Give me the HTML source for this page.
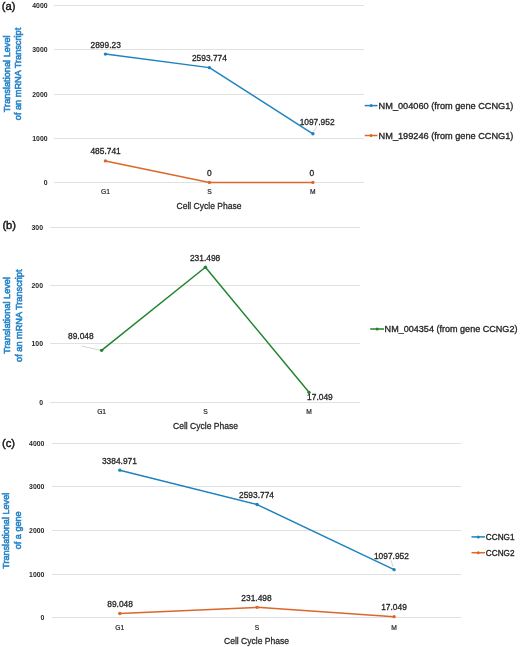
<!DOCTYPE html>
<html><head><meta charset="utf-8"><style>
html,body{margin:0;padding:0;background:#fff;}
svg{display:block;will-change:transform;}
text{font-family:"Liberation Sans", sans-serif;}
</style></head><body>
<svg width="520" height="647" viewBox="0 0 520 647">
<rect width="520" height="647" fill="#fff"/>
<text x="1.80" y="9.60" font-size="11.2" text-anchor="start" fill="#111" font-weight="normal" stroke="#111" stroke-width="0.4" >(a)</text>
<line x1="54.00" y1="182.50" x2="364.00" y2="182.50" stroke="#e1e1e1" stroke-width="1"/>
<text x="47.60" y="184.70" font-size="6.9" text-anchor="end" fill="#262626" font-weight="bold" >0</text>
<line x1="54.00" y1="138.50" x2="364.00" y2="138.50" stroke="#e1e1e1" stroke-width="1"/>
<text x="47.60" y="140.70" font-size="6.9" text-anchor="end" fill="#262626" font-weight="bold" >1000</text>
<line x1="54.00" y1="94.50" x2="364.00" y2="94.50" stroke="#e1e1e1" stroke-width="1"/>
<text x="47.60" y="96.70" font-size="6.9" text-anchor="end" fill="#262626" font-weight="bold" >2000</text>
<line x1="54.00" y1="49.50" x2="364.00" y2="49.50" stroke="#e1e1e1" stroke-width="1"/>
<text x="47.60" y="51.70" font-size="6.9" text-anchor="end" fill="#262626" font-weight="bold" >3000</text>
<line x1="54.00" y1="5.50" x2="364.00" y2="5.50" stroke="#e1e1e1" stroke-width="1"/>
<text x="47.60" y="7.70" font-size="6.9" text-anchor="end" fill="#262626" font-weight="bold" >4000</text>
<polyline points="105.40,54.11 209.40,67.63 312.90,133.82" fill="none" stroke="#1e82bf" stroke-width="1.5" stroke-linejoin="round"/>
<circle cx="105.40" cy="54.11" r="1.7" fill="#1e82bf"/>
<circle cx="209.40" cy="67.63" r="1.7" fill="#1e82bf"/>
<circle cx="312.90" cy="133.82" r="1.7" fill="#1e82bf"/>
<polyline points="105.40,160.91 209.40,182.40 312.90,182.40" fill="none" stroke="#dc672a" stroke-width="1.5" stroke-linejoin="round"/>
<circle cx="105.40" cy="160.91" r="1.7" fill="#dc672a"/>
<circle cx="209.40" cy="182.40" r="1.7" fill="#dc672a"/>
<circle cx="312.90" cy="182.40" r="1.7" fill="#dc672a"/>
<text x="105.70" y="47.50" font-size="8.4" text-anchor="middle" fill="#262626" font-weight="normal" stroke="#262626" stroke-width="0.3" >2899.23</text>
<text x="209.40" y="61.30" font-size="8.4" text-anchor="middle" fill="#262626" font-weight="normal" stroke="#262626" stroke-width="0.3" >2593.774</text>
<text x="317.10" y="124.80" font-size="8.4" text-anchor="middle" fill="#262626" font-weight="normal" stroke="#262626" stroke-width="0.3" >1097.952</text>
<line x1="313.50" y1="132.00" x2="317.00" y2="126.50" stroke="#aaa" stroke-width="0.5"/>
<text x="105.60" y="153.80" font-size="8.4" text-anchor="middle" fill="#262626" font-weight="normal" stroke="#262626" stroke-width="0.3" >485.741</text>
<text x="209.40" y="176.00" font-size="8.4" text-anchor="middle" fill="#262626" font-weight="normal" stroke="#262626" stroke-width="0.3" >0</text>
<text x="311.90" y="176.00" font-size="8.4" text-anchor="middle" fill="#262626" font-weight="normal" stroke="#262626" stroke-width="0.3" >0</text>
<text x="105.40" y="194.30" font-size="6.7" text-anchor="middle" fill="#262626" font-weight="normal" stroke="#262626" stroke-width="0.2" >G1</text>
<text x="209.40" y="194.30" font-size="6.7" text-anchor="middle" fill="#262626" font-weight="normal" stroke="#262626" stroke-width="0.2" >S</text>
<text x="312.90" y="194.30" font-size="6.7" text-anchor="middle" fill="#262626" font-weight="normal" stroke="#262626" stroke-width="0.2" >M</text>
<text x="0.00" y="0.00" font-size="8.55" text-anchor="middle" fill="#262626" font-weight="normal" stroke="#262626" stroke-width="0.25" transform="translate(209,208.5) scale(1,1.06)">Cell Cycle Phase</text>
<line x1="364.70" y1="105.60" x2="377.50" y2="105.60" stroke="#1e82bf" stroke-width="1.5"/>
<circle cx="371.10" cy="105.60" r="1.5" fill="#1e82bf"/>
<text x="0.00" y="0.00" font-size="9.2" text-anchor="start" fill="#262626" font-weight="normal" stroke="#262626" stroke-width="0.32" transform="translate(378.6,108.91) scale(1,1.07)">NM_004060 (from gene CCNG1)</text>
<line x1="364.70" y1="135.50" x2="377.50" y2="135.50" stroke="#dc672a" stroke-width="1.5"/>
<circle cx="371.10" cy="135.50" r="1.5" fill="#dc672a"/>
<text x="0.00" y="0.00" font-size="9.2" text-anchor="start" fill="#262626" font-weight="normal" stroke="#262626" stroke-width="0.32" transform="translate(378.6,138.81) scale(1,1.07)">NM_199246 (from gene CCNG1)</text>
<text x="0.00" y="0.00" font-size="9.2" text-anchor="middle" fill="#2886c9" font-weight="normal" stroke="#2886c9" stroke-width="0.55" transform="translate(9.8,73.8) rotate(-90) scale(1,1.05)">Translational Level</text>
<text x="0.00" y="0.00" font-size="9.2" text-anchor="middle" fill="#2886c9" font-weight="normal" stroke="#2886c9" stroke-width="0.55" transform="translate(21.4,74) rotate(-90) scale(1,1.05)">of an mRNA Transcript</text>
<text x="2.40" y="229.00" font-size="11.2" text-anchor="start" fill="#111" font-weight="normal" stroke="#111" stroke-width="0.4" >(b)</text>
<line x1="50.00" y1="402.50" x2="360.00" y2="402.50" stroke="#e1e1e1" stroke-width="1"/>
<text x="43.00" y="404.70" font-size="6.9" text-anchor="end" fill="#262626" font-weight="bold" >0</text>
<line x1="50.00" y1="343.50" x2="360.00" y2="343.50" stroke="#e1e1e1" stroke-width="1"/>
<text x="43.00" y="345.70" font-size="6.9" text-anchor="end" fill="#262626" font-weight="bold" >100</text>
<line x1="50.00" y1="285.50" x2="360.00" y2="285.50" stroke="#e1e1e1" stroke-width="1"/>
<text x="43.00" y="287.70" font-size="6.9" text-anchor="end" fill="#262626" font-weight="bold" >200</text>
<line x1="50.00" y1="227.50" x2="360.00" y2="227.50" stroke="#e1e1e1" stroke-width="1"/>
<text x="43.00" y="229.70" font-size="6.9" text-anchor="end" fill="#262626" font-weight="bold" >300</text>
<polyline points="101.60,350.36 205.40,267.26 309.00,392.35" fill="none" stroke="#21842e" stroke-width="1.5" stroke-linejoin="round"/>
<circle cx="101.60" cy="350.36" r="1.7" fill="#21842e"/>
<circle cx="205.40" cy="267.26" r="1.7" fill="#21842e"/>
<circle cx="309.00" cy="392.35" r="1.7" fill="#21842e"/>
<text x="80.80" y="339.30" font-size="8.4" text-anchor="middle" fill="#262626" font-weight="normal" stroke="#262626" stroke-width="0.3" >89.048</text>
<line x1="81.70" y1="346.20" x2="100.00" y2="350.00" stroke="#aaa" stroke-width="0.5"/>
<text x="205.10" y="260.80" font-size="8.4" text-anchor="middle" fill="#262626" font-weight="normal" stroke="#262626" stroke-width="0.3" >231.498</text>
<text x="319.90" y="400.40" font-size="8.4" text-anchor="middle" fill="#262626" font-weight="normal" stroke="#262626" stroke-width="0.3" >17.049</text>
<text x="101.60" y="414.20" font-size="6.7" text-anchor="middle" fill="#262626" font-weight="normal" stroke="#262626" stroke-width="0.2" >G1</text>
<text x="205.40" y="414.20" font-size="6.7" text-anchor="middle" fill="#262626" font-weight="normal" stroke="#262626" stroke-width="0.2" >S</text>
<text x="309.00" y="414.20" font-size="6.7" text-anchor="middle" fill="#262626" font-weight="normal" stroke="#262626" stroke-width="0.2" >M</text>
<text x="0.00" y="0.00" font-size="8.55" text-anchor="middle" fill="#262626" font-weight="normal" stroke="#262626" stroke-width="0.25" transform="translate(205.5,428.5) scale(1,1.06)">Cell Cycle Phase</text>
<line x1="370.20" y1="329.00" x2="384.00" y2="329.00" stroke="#21842e" stroke-width="1.5"/>
<circle cx="377.10" cy="329.00" r="1.5" fill="#21842e"/>
<text x="0.00" y="0.00" font-size="9.06" text-anchor="start" fill="#262626" font-weight="normal" stroke="#262626" stroke-width="0.32" transform="translate(384.6,332.26) scale(1,1.07)">NM_004354 (from gene CCNG2)</text>
<text x="0.00" y="0.00" font-size="9.2" text-anchor="middle" fill="#2886c9" font-weight="normal" stroke="#2886c9" stroke-width="0.55" transform="translate(9.9,315.4) rotate(-90) scale(1,1.05)">Translational Level</text>
<text x="0.00" y="0.00" font-size="9.2" text-anchor="middle" fill="#2886c9" font-weight="normal" stroke="#2886c9" stroke-width="0.55" transform="translate(21.6,315.7) rotate(-90) scale(1,1.05)">of an mRNA Transcript</text>
<text x="2.00" y="446.50" font-size="11.2" text-anchor="start" fill="#111" font-weight="normal" stroke="#111" stroke-width="0.4" >(c)</text>
<line x1="52.00" y1="617.50" x2="461.30" y2="617.50" stroke="#e1e1e1" stroke-width="1"/>
<text x="44.40" y="619.70" font-size="6.9" text-anchor="end" fill="#262626" font-weight="bold" >0</text>
<line x1="52.00" y1="574.50" x2="461.30" y2="574.50" stroke="#e1e1e1" stroke-width="1"/>
<text x="44.40" y="576.70" font-size="6.9" text-anchor="end" fill="#262626" font-weight="bold" >1000</text>
<line x1="52.00" y1="530.50" x2="461.30" y2="530.50" stroke="#e1e1e1" stroke-width="1"/>
<text x="44.40" y="532.70" font-size="6.9" text-anchor="end" fill="#262626" font-weight="bold" >2000</text>
<line x1="52.00" y1="486.50" x2="461.30" y2="486.50" stroke="#e1e1e1" stroke-width="1"/>
<text x="44.40" y="488.70" font-size="6.9" text-anchor="end" fill="#262626" font-weight="bold" >3000</text>
<line x1="52.00" y1="443.50" x2="461.30" y2="443.50" stroke="#e1e1e1" stroke-width="1"/>
<text x="44.40" y="445.70" font-size="6.9" text-anchor="end" fill="#262626" font-weight="bold" >4000</text>
<polyline points="119.80,470.15 257.10,504.57 394.10,569.64" fill="none" stroke="#1e82bf" stroke-width="1.5" stroke-linejoin="round"/>
<circle cx="119.80" cy="470.15" r="1.7" fill="#1e82bf"/>
<circle cx="257.10" cy="504.57" r="1.7" fill="#1e82bf"/>
<circle cx="394.10" cy="569.64" r="1.7" fill="#1e82bf"/>
<polyline points="119.80,613.53 257.10,607.33 394.10,616.66" fill="none" stroke="#dc672a" stroke-width="1.5" stroke-linejoin="round"/>
<circle cx="119.80" cy="613.53" r="1.7" fill="#dc672a"/>
<circle cx="257.10" cy="607.33" r="1.7" fill="#dc672a"/>
<circle cx="394.10" cy="616.66" r="1.7" fill="#dc672a"/>
<text x="119.40" y="463.80" font-size="8.4" text-anchor="middle" fill="#262626" font-weight="normal" stroke="#262626" stroke-width="0.3" >3384.971</text>
<text x="256.50" y="498.30" font-size="8.4" text-anchor="middle" fill="#262626" font-weight="normal" stroke="#262626" stroke-width="0.3" >2593.774</text>
<text x="391.40" y="558.50" font-size="8.4" text-anchor="middle" fill="#262626" font-weight="normal" stroke="#262626" stroke-width="0.3" >1097.952</text>
<line x1="393.00" y1="567.00" x2="391.00" y2="560.00" stroke="#aaa" stroke-width="0.5"/>
<text x="120.10" y="607.30" font-size="8.4" text-anchor="middle" fill="#262626" font-weight="normal" stroke="#262626" stroke-width="0.3" >89.048</text>
<text x="256.50" y="601.20" font-size="8.4" text-anchor="middle" fill="#262626" font-weight="normal" stroke="#262626" stroke-width="0.3" >231.498</text>
<text x="394.00" y="609.80" font-size="8.4" text-anchor="middle" fill="#262626" font-weight="normal" stroke="#262626" stroke-width="0.3" >17.049</text>
<text x="119.80" y="629.50" font-size="6.7" text-anchor="middle" fill="#262626" font-weight="normal" stroke="#262626" stroke-width="0.2" >G1</text>
<text x="257.10" y="629.50" font-size="6.7" text-anchor="middle" fill="#262626" font-weight="normal" stroke="#262626" stroke-width="0.2" >S</text>
<text x="394.10" y="629.50" font-size="6.7" text-anchor="middle" fill="#262626" font-weight="normal" stroke="#262626" stroke-width="0.2" >M</text>
<text x="0.00" y="0.00" font-size="8.55" text-anchor="middle" fill="#262626" font-weight="normal" stroke="#262626" stroke-width="0.25" transform="translate(256.5,643.5) scale(1,1.06)">Cell Cycle Phase</text>
<line x1="471.50" y1="536.90" x2="485.00" y2="536.90" stroke="#1e82bf" stroke-width="1.5"/>
<circle cx="478.25" cy="536.90" r="1.5" fill="#1e82bf"/>
<text x="0.00" y="0.00" font-size="8.2" text-anchor="start" fill="#262626" font-weight="normal" stroke="#262626" stroke-width="0.32" transform="translate(485.8,539.85) scale(1,1.07)">CCNG1</text>
<line x1="471.50" y1="552.70" x2="485.00" y2="552.70" stroke="#dc672a" stroke-width="1.5"/>
<circle cx="478.25" cy="552.70" r="1.5" fill="#dc672a"/>
<text x="0.00" y="0.00" font-size="8.2" text-anchor="start" fill="#262626" font-weight="normal" stroke="#262626" stroke-width="0.32" transform="translate(485.8,555.65) scale(1,1.07)">CCNG2</text>
<text x="0.00" y="0.00" font-size="9.1" text-anchor="middle" fill="#2886c9" font-weight="normal" stroke="#2886c9" stroke-width="0.55" transform="translate(9.0,530.8) rotate(-90) scale(1,1.05)">Translational Level</text>
<text x="0.00" y="0.00" font-size="9.1" text-anchor="middle" fill="#2886c9" font-weight="normal" stroke="#2886c9" stroke-width="0.55" transform="translate(21.4,530.3) rotate(-90) scale(1,1.05)">of a gene</text>
</svg>
</body></html>
